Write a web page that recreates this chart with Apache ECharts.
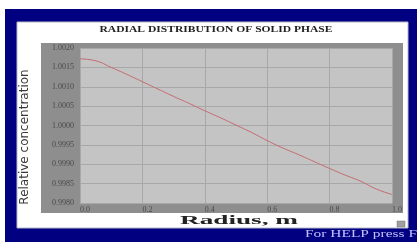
<!DOCTYPE html>
<html>
<head>
<meta charset="utf-8">
<script src="https://cdn.jsdelivr.net/npm/echarts@6/dist/echarts.min.js"></script>
<style>
  html, body { margin: 0; padding: 0; background: #ffffff; }
  #main { width: 417px; height: 242px; }
</style>
</head>
<body>
<div id="main"></div>
<script>
// radius (m) and relative concentration
var radius = [0.00, 0.05, 0.10, 0.15, 0.20, 0.25, 0.30, 0.35, 0.40, 0.45, 0.50,
              0.55, 0.60, 0.65, 0.70, 0.75, 0.80, 0.85, 0.90, 0.95, 1.00];
var concentration = [1.00172, 1.00167, 1.00150, 1.00132, 1.00113, 1.00094, 1.00075,
                     1.00057, 1.00038, 1.00020, 1.00001, 0.99982, 0.99961, 0.99942,
                     0.99925, 0.99907, 0.99889, 0.99872, 0.99856, 0.99836, 0.99822];
var xTicks = [0.0, 0.2, 0.4, 0.6, 0.8, 1.0];
var yMin = 0.998, yMax = 1.002, yStep = 0.0005;

var titleText = 'RADIAL DISTRIBUTION OF SOLID PHASE';
var xName = 'Radius, m';
var yName = 'Relative concentration';
var helpText = 'For HELP press F1';

// stretch text horizontally to the width seen in the picture
var ctx = document.createElement('canvas').getContext('2d');
function stretch(font, text, target) {
  ctx.font = font;
  return target / ctx.measureText(text).width;
}

var titleFont = 'bold 9px "Liberation Serif"';
var xNameFont = 'bold 13px "Liberation Serif"';
var helpFont = '11px "Liberation Serif"';

var chartDom = document.getElementById('main');
var myChart = echarts.init(chartDom, null, { renderer: 'canvas' });
var option = {
  animation: false,
  grid: {
    left: 80,
    top: 48,
    width: 312,
    height: 155,
    show: true,
    backgroundColor: '#c4c4c4',
    borderWidth: 0
  },
  xAxis: {
    type: 'value',
    min: xTicks[0],
    max: xTicks[xTicks.length - 1],
    interval: 0.2,
    axisLine: { show: false },
    axisTick: { show: false },
    splitLine: { show: true, lineStyle: { color: '#a8a8a8', width: 1 } },
    axisLabel: {
      align: 'left',
      margin: 3,
      fontSize: 8,
      fontFamily: 'Liberation Serif',
      color: '#4a4a4a',
      formatter: function (v) { return v.toFixed(1); }
    }
  },
  yAxis: {
    type: 'value',
    min: yMin,
    max: yMax,
    interval: yStep,
    axisLine: { show: false },
    axisTick: { show: false },
    splitLine: { show: true, lineStyle: { color: '#a8a8a8', width: 1 } },
    axisLabel: {
      margin: 6,
      fontSize: 8,
      fontFamily: 'Liberation Serif',
      color: '#4a4a4a',
      formatter: function (v) { return v.toFixed(4); }
    }
  },
  series: [
    {
      type: 'line',
      smooth: true,
      showSymbol: false,
      lineStyle: { color: '#c46a72', width: 1 },
      data: radius.map(function (r, i) { return [r, concentration[i]]; })
    }
  ],
  graphic: [
    { type: 'rect', z: -10, shape: { x: 5, y: 9, width: 412, height: 233 }, style: { fill: '#000080' } },
    { type: 'rect', z: -9, shape: { x: 17, y: 22, width: 391, height: 206 }, style: { fill: '#ffffff', stroke: '#b8b8c8', lineWidth: 1 } },
    { type: 'rect', z: -8, shape: { x: 41, y: 43, width: 362, height: 170 }, style: { fill: '#8e8e8e' } },
    { type: 'rect', z: -7, shape: { x: 397, y: 221, width: 8, height: 6 }, style: { fill: '#a0a0a0', stroke: '#707070', lineWidth: 0.5 } },
    {
      type: 'text', x: 216, y: 30,
      scaleX: stretch(titleFont, titleText, 233),
      style: { text: titleText, font: titleFont, fill: '#222222', align: 'center', verticalAlign: 'middle' }
    },
    {
      type: 'text', x: 25, y: 137, rotation: Math.PI / 2,
      style: { text: yName, font: '12px "DejaVu Sans"', fill: '#3a3a3a', align: 'center', verticalAlign: 'middle' }
    },
    {
      type: 'text', x: 239, y: 221,
      scaleX: stretch(xNameFont, xName, 118),
      style: { text: xName, font: xNameFont, fill: '#222222', align: 'center', verticalAlign: 'middle' }
    },
    {
      type: 'text', x: 305, y: 234,
      scaleX: stretch(helpFont, 'For HELP press F', 112),
      style: { text: helpText, font: helpFont, fill: '#c0c0ff', align: 'left', verticalAlign: 'middle' }
    }
  ]
};
option && myChart.setOption(option);
</script>
</body>
</html>
